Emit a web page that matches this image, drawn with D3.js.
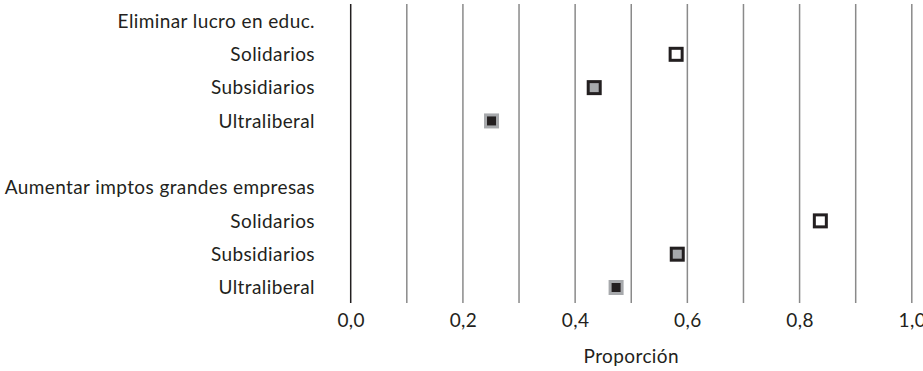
<!DOCTYPE html>
<html><head><meta charset="utf-8">
<script src="https://cdn.jsdelivr.net/npm/d3@7"></script>
<style>body{margin:0;background:#fff}svg text{font-family:"Lato",sans-serif;fill:#231f20;letter-spacing:0.4px}</style>
</head><body><svg id="c" width="923" height="371"></svg>
<script>
const rowLabels = ["Eliminar lucro en educ.","Solidarios","Subsidiarios","Ultraliberal","","Aumentar imptos grandes empresas","Solidarios","Subsidiarios","Ultraliberal"];
const groups = ["Solidarios","Subsidiarios","Ultraliberal"];
const lucroValues = [0.58, 0.434, 0.251];
const impuestosValues = [0.837, 0.582, 0.473];
const tickValues = [0, 0.2, 0.4, 0.6, 0.8, 1.0];
const gridValues = d3.range(0, 11).map(i => i / 10);

const svg = d3.select("#c");
const x = d3.scaleLinear().domain([0, 1]).range([350.7, 911.8]);
const y = d3.scalePoint().domain(d3.range(rowLabels.length)).range([21, 287.5]);

const points = [];
groups.forEach((g, i) => points.push({row: 1 + i, v: lucroValues[i], g}));
groups.forEach((g, i) => points.push({row: 6 + i, v: impuestosValues[i], g}));

svg.append("g").selectAll("line").data(gridValues).join("line")
  .attr("x1", d => x(d)).attr("x2", d => x(d))
  .attr("y1", 4).attr("y2", 303)
  .attr("stroke", d => d === 0 ? "#231f20" : "#8a8a8a")
  .attr("stroke-width", 1.5);

svg.append("g").selectAll("text").data(rowLabels).join("text")
  .attr("x", 315).attr("y", (d, i) => y(i)).attr("dy", "0.36em")
  .attr("text-anchor", "end").attr("font-size", 19).text(d => d);

const fill = {Solidarios: "#ffffff", Subsidiarios: "#a7a9ac", Ultraliberal: "#231f20"};
const stroke = {Solidarios: "#231f20", Subsidiarios: "#231f20", Ultraliberal: "#a7a9ac"};
svg.append("g").selectAll("rect").data(points).join("rect")
  .attr("x", d => x(d.v) - 6).attr("y", d => y(d.row) - 6)
  .attr("width", 12).attr("height", 12)
  .attr("fill", d => fill[d.g]).attr("stroke", d => stroke[d.g]).attr("stroke-width", 3);

const axis = d3.axisBottom(x).tickValues(tickValues).tickSize(0).tickPadding(0)
  .tickFormat(d => d3.format(".1f")(d).replace(".", ","));
const ax = svg.append("g").attr("transform", "translate(0,313)").call(axis);
ax.select(".domain").remove();
ax.selectAll("text").attr("font-size", 19).attr("dy", "0.71em").style("font-family", "Lato").attr("fill", "#231f20");

svg.append("text").attr("x", (x(0) + x(1)) / 2).attr("y", 356).attr("dy", "0.36em")
  .attr("text-anchor", "middle").attr("font-size", 19).text("Proporción");
</script></body></html>
